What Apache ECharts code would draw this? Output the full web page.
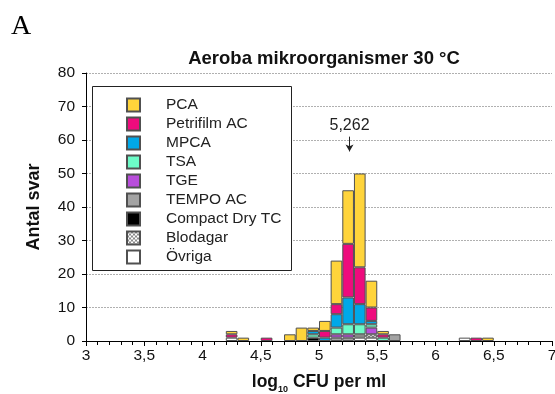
<!DOCTYPE html>
<html>
<head>
<meta charset="utf-8">
<script src="https://cdn.jsdelivr.net/npm/echarts@6/dist/echarts.min.js"></script>
<style>
  html, body { margin: 0; padding: 0; background: #fff; }
  #chart { width: 555px; height: 394px; }
</style>
</head>
<body>
<div id="chart"></div>
<script>
// bin centres (log10 CFU per ml, bins of 0.1)
var bins = [4.25, 4.35, 4.55, 4.75, 4.85, 4.95, 5.05, 5.15, 5.25, 5.35, 5.45, 5.55, 5.65, 6.25, 6.35, 6.45];

var pca        = [1, 1, 0, 2, 4, 1, 3, 13, 16, 28, 8, 1, 0, 0, 0, 1];
var petrifilm  = [1, 0, 1, 0, 0, 0, 2, 3, 16, 11, 4, 1, 0, 0, 1, 0];
var mpca       = [0, 0, 0, 0, 0, 1, 1, 4, 8, 6, 1, 0, 0, 0, 0, 0];
var tsa        = [0, 0, 0, 0, 0, 1, 0, 2, 3, 3, 1, 1, 0, 0, 0, 0];
var tge        = [0, 0, 0, 0, 0, 0, 0, 1, 1, 0, 2, 0, 0, 0, 0, 0];
var tempo      = [0, 0, 0, 0, 0, 0, 0, 1, 1, 1, 0, 0, 2, 0, 0, 0];
var compactDry = [0, 0, 0, 0, 0, 1, 0, 0, 0, 0, 0, 0, 0, 0, 0, 0];
var blodagar   = [0, 0, 0, 0, 0, 0, 0, 0, 0, 0, 1, 0, 0, 0, 0, 0];
var ovriga     = [1, 0, 0, 0, 0, 0, 0, 0, 0, 1, 1, 0, 0, 1, 0, 0];

var legendNames = ['PCA', 'Petrifilm AC', 'MPCA', 'TSA', 'TGE', 'TEMPO AC', 'Compact Dry TC', 'Blodagar', 'Övriga'];
var medianValue = 5.262;
var medianText = '5,262';
var xMin = 3, xMax = 7, binSize = 0.1;

// 40 bin slots between 3 and 7 for the stacked histogram
var slots = [];
for (var k = 0; k < Math.round((xMax - xMin) / binSize); k++) slots.push(String(k));

// checkered fill for Blodagar
var pat = document.createElement('canvas');
pat.width = 4; pat.height = 4;
var pc = pat.getContext('2d');
pc.fillStyle = '#fff'; pc.fillRect(0, 0, 4, 4);
pc.fillStyle = '#8a8a8a'; pc.fillRect(0, 0, 2, 2); pc.fillRect(2, 2, 2, 2);

var font = 'Liberation Sans';

function mk(name, vals, color) {
  var data = [];
  vals.forEach(function (v, i) {
    if (v > 0) data.push([String(Math.floor((bins[i] - xMin) / binSize)), v]);
  });
  return {
    name: name,
    type: 'bar',
    stack: 'all',
    xAxisIndex: 0,
    barWidth: '100%',
    itemStyle: { color: color, borderColor: '#505050', borderWidth: 1 },
    data: data
  };
}

var series = [
  mk('Övriga', ovriga, '#ffffff'),
  mk('Blodagar', blodagar, { image: pat, repeat: 'repeat' }),
  mk('Compact Dry TC', compactDry, '#000000'),
  mk('TEMPO AC', tempo, '#a3a3a3'),
  mk('TGE', tge, '#b84ddb'),
  mk('TSA', tsa, '#6dfcc8'),
  mk('MPCA', mpca, '#00a8e8'),
  mk('Petrifilm AC', petrifilm, '#ee0b7d'),
  mk('PCA', pca, '#ffd43b'),
  {
    name: 'median',
    type: 'scatter',
    xAxisIndex: 1,
    symbolSize: 0,
    silent: true,
    data: [[medianValue, 61]],
    markLine: {
      silent: true,
      symbol: ['none', 'arrow'],
      symbolSize: [6, 7],
      lineStyle: { color: '#222', width: 1, type: 'solid' },
      label: { show: true, position: 'start', formatter: medianText, fontSize: 16, color: '#222', fontFamily: font, distance: 3 },
      data: [[{ coord: [medianValue, 61] }, { coord: [medianValue, 56.6] }]]
    }
  }
];

var option = {
  animation: false,
  backgroundColor: '#fff',
  title: [{
    text: 'Aeroba mikroorganismer 30 °C',
    left: 319, top: 44, textAlign: 'center',
    textStyle: { fontSize: 18.5, fontWeight: 'bold', color: '#111', fontFamily: font }
  }, {
    text: 'A',
    left: 6, top: 8,
    textStyle: { fontSize: 28, fontWeight: 'normal', color: '#000', fontFamily: 'Liberation Serif' }
  }],
  graphic: [{
    type: 'rect', z: 3,
    shape: { x: 92.5, y: 86.5, width: 199, height: 184 },
    style: { fill: '#fff', stroke: '#222', lineWidth: 1 }
  }],
  legend: {
    z: 5,
    orient: 'vertical',
    left: 126, top: 97,
    padding: 0,
    itemWidth: 13, itemHeight: 13, itemGap: 3,
    icon: 'rect',
    data: legendNames,
    selectedMode: false,
    textStyle: { fontSize: 15.5, color: '#222', fontFamily: font, padding: [0, 0, 0, 21] }
  },
  grid: { left: 86, right: 3, top: 73, bottom: 53, outerBoundsMode: 'none' },
  xAxis: [{
    type: 'category',
    data: slots,
    boundaryGap: true,
    axisLine: { show: false },
    axisTick: { show: false },
    axisLabel: { show: false },
    splitLine: { show: false }
  }, {
    type: 'value', min: xMin, max: xMax, interval: 0.5,
    position: 'bottom',
    name: '{b|log}{s|10}{b| CFU per ml}',
    nameLocation: 'middle', nameGap: 30,
    nameTextStyle: {
      rich: {
        b: { fontSize: 17.5, fontWeight: 'bold', color: '#111', fontFamily: font },
        s: { fontSize: 9, fontWeight: 'bold', color: '#111', fontFamily: font, padding: [14, 0, 0, 0] }
      }
    },
    axisLine: { lineStyle: { color: '#000', width: 1 } },
    axisTick: { length: 5, lineStyle: { color: '#000' } },
    minorTick: { show: true, splitNumber: 5, length: 4, lineStyle: { color: '#000' } },
    splitLine: { show: false },
    axisLabel: {
      fontSize: 15.5, color: '#111', fontFamily: font, margin: 7,
      formatter: function (v) { return String(v).replace('.', ','); }
    }
  }],
  yAxis: {
    type: 'value', min: 0, max: 80, interval: 10,
    name: 'Antal svar',
    nameLocation: 'middle', nameGap: 43,
    nameTextStyle: { fontSize: 18, fontWeight: 'bold', color: '#111', fontFamily: font },
    axisLine: { show: true, lineStyle: { color: '#000', width: 1 } },
    axisTick: { show: true, length: 4, lineStyle: { color: '#000' } },
    splitLine: { show: true, lineStyle: { color: '#b0b0b0', type: [2, 1], width: 1 } },
    axisLabel: { fontSize: 15.5, color: '#111', fontFamily: font, margin: 11 }
  },
  series: series
};

var myChart = echarts.init(document.getElementById('chart'));
myChart.setOption(option);
</script>
</body>
</html>
